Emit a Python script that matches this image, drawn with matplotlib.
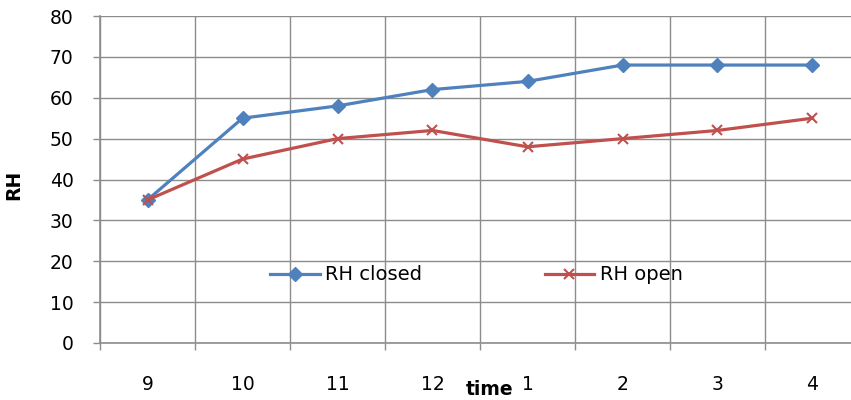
import matplotlib.pyplot as plt
from matplotlib.ticker import FixedLocator

# data
hours = ["9", "10", "11", "12", "1", "2", "3", "4"]
rh_closed = [35, 55, 58, 62, 64, 68, 68, 68]
rh_open = [35, 45, 50, 52, 48, 50, 52, 55]

blue = "#4F81BD"
red = "#C0504D"
grid_col = "#8C8C8C"

plt.rcParams["font.family"] = ["DejaVu Sans"]

fig = plt.figure(figsize=(8.51, 4.0), dpi=100)
ax = fig.add_axes([100 / 851, 57 / 400, 760 / 851, 327 / 400])

x = list(range(len(hours)))
ax.plot(x, rh_closed, color=blue, lw=2.3, marker="D", ms=7, label="RH closed")
ax.plot(x, rh_open, color=red, lw=2.3, marker="x", ms=7, mew=1.5, label="RH open")

ax.set_xlim(-0.5, len(hours) - 0.5)
ax.set_ylim(0, 80)
ax.set_yticks(range(0, 81, 10))
ax.set_xticks(x)
ax.set_xticklabels(hours)
ax.xaxis.set_minor_locator(FixedLocator([i - 0.5 for i in range(len(hours) + 1)]))

ax.tick_params(axis="x", which="major", length=0, pad=23, labelsize=13.5)
ax.tick_params(axis="x", which="minor", length=5, width=1, color=grid_col, direction="out")
ax.tick_params(axis="y", length=5, width=1, color=grid_col, labelsize=13.5, pad=14)

ax.grid(True, axis="y", color=grid_col, lw=1)
ax.grid(True, axis="x", which="minor", color=grid_col, lw=1)
ax.set_axisbelow(True)

for s in ["top", "right"]:
    ax.spines[s].set_visible(False)
for s in ["left", "bottom"]:
    ax.spines[s].set_color(grid_col)
    ax.spines[s].set_linewidth(1.2)

ax.set_xlabel("time", fontsize=13.5, fontweight="bold")
ax.xaxis.set_label_coords(0.513, -0.112)
ax.set_ylabel("RH", fontsize=13.5, fontweight="bold")
ax.yaxis.set_label_coords(-0.101, 0.483)

ax.legend(loc="center", bbox_to_anchor=(0.495, 0.208), ncol=2, frameon=False,
          fontsize=14, handlelength=2.57, handletextpad=0.26, columnspacing=6.3)

fig.savefig("out.png", dpi=100)
